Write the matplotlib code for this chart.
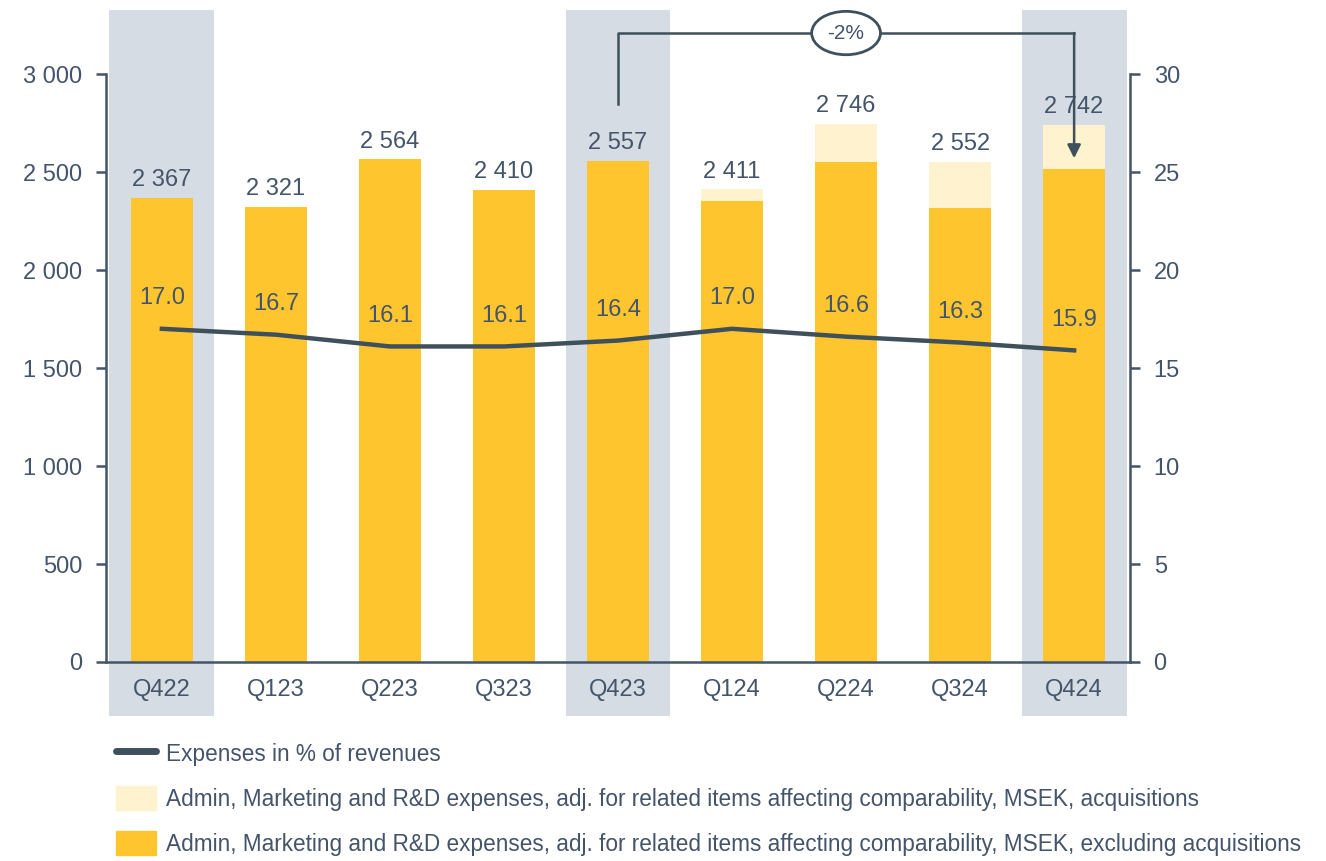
import matplotlib
matplotlib.use('Agg')
import matplotlib.pyplot as plt
from matplotlib.patches import Patch
from matplotlib.lines import Line2D

# --- Data ---
quarters = ['Q422', 'Q123', 'Q223', 'Q323', 'Q423', 'Q124', 'Q224', 'Q324', 'Q424']
total = [2367, 2321, 2564, 2410, 2557, 2411, 2746, 2552, 2742]
excl_acq = [2367, 2321, 2564, 2410, 2557, 2352, 2551, 2318, 2515]
pct_rev = [17.0, 16.7, 16.1, 16.1, 16.4, 17.0, 16.6, 16.3, 15.9]
highlight = ['Q422', 'Q423', 'Q424']
change_label = '-2%'

# --- Style ---
plt.rcParams['font.family'] = ['Liberation Sans', 'DejaVu Sans']
fs = 17
txt = '#44546a'
dark = '#3f505d'
yellow = '#fec52e'
light = '#fff2cf'
band = '#d5dce3'

fig = plt.figure(figsize=(13.26, 8.61), dpi=100)
ax = fig.add_axes([106 / 1326, 1 - 662 / 861, (1130 - 106) / 1326, (662 - 6) / 861])
ymax = 3347
ax.set_ylim(0, ymax)
ax.set_xlim(-0.49, len(quarters) - 0.51)

x = list(range(len(quarters)))

# highlight bands (extend below the axis, behind the tick labels)
for i, q in enumerate(quarters):
    if q in highlight:
        ax.axvspan(i - 0.46, i + 0.46, ymin=-0.082, ymax=0.994, color=band,
                   clip_on=False, zorder=0, lw=0)

acq = [t - e for t, e in zip(total, excl_acq)]
ax.bar(x, excl_acq, width=0.55, color=yellow, zorder=2)
ax.bar(x, acq, bottom=excl_acq, width=0.55, color=light, zorder=2)

for i, t in enumerate(total):
    ax.annotate(f'{t:,}'.replace(',', ' '), (i, t), xytext=(0, 5),
                textcoords='offset points', ha='center', va='bottom',
                fontsize=fs, color=txt)

# axes styling
for s in ['top', 'right']:
    ax.spines[s].set_visible(False)
for s in ['left', 'bottom']:
    ax.spines[s].set_color(txt)
    ax.spines[s].set_linewidth(1.8)
ax.spines['left'].set_bounds(0, 3000)
ax.set_yticks(range(0, 3001, 500))
ax.set_yticklabels([f'{v:,}'.replace(',', ' ') for v in range(0, 3001, 500)])
ax.tick_params(axis='y', colors=txt, labelsize=fs, length=7, width=1.8, pad=10)
ax.set_xticks(x)
ax.set_xticklabels(quarters)
ax.tick_params(axis='x', colors=txt, labelsize=fs, length=0, pad=12)

# percentage line on right axis
ax2 = ax.twinx()
ax2.set_ylim(0, ymax / 100)
ax2.plot(x, pct_rev, color=dark, lw=3.2, zorder=3)
for i, p in enumerate(pct_rev):
    ax2.annotate(f'{p:.1f}', (i, p), xytext=(0, 22), textcoords='offset points',
                 ha='center', va='center', fontsize=fs, color=txt)
for s in ['top', 'left', 'bottom']:
    ax2.spines[s].set_visible(False)
ax2.spines['right'].set_color(txt)
ax2.spines['right'].set_linewidth(1.8)
ax2.spines['right'].set_bounds(0, 30)
ax2.set_yticks(range(0, 31, 5))
ax2.tick_params(axis='y', colors=txt, labelsize=fs, length=7, width=1.8, pad=10)

# change bracket Q423 -> Q424
i0, i1 = quarters.index('Q423'), quarters.index('Q424')
y_top = 3209
ax.plot([i0, i0, i1], [total[i0] + 290, y_top, y_top], color=dark, lw=1.8,
        zorder=4, clip_on=False)
ax.annotate('', xy=(i1, excl_acq[i1] + 55), xytext=(i1, y_top),
            arrowprops=dict(arrowstyle='-|>,head_length=0.8,head_width=0.4',
                            color=dark, lw=1.8, shrinkA=0, shrinkB=0),
            zorder=4)
ax.text((i0 + i1) / 2, y_top, change_label, ha='center', va='center',
        fontsize=15, color=txt, zorder=5,
        bbox=dict(boxstyle='ellipse,pad=0.28', fc='white', ec=dark, lw=2))

# legend
handles = [
    Line2D([], [], color=dark, lw=5, solid_capstyle='round'),
    Patch(color=light),
    Patch(color=yellow),
]
labels = [
    'Expenses in % of revenues',
    'Admin, Marketing and R&D expenses, adj. for related items affecting comparability, MSEK, acquisitions',
    'Admin, Marketing and R&D expenses, adj. for related items affecting comparability, MSEK, excluding acquisitions',
]
lfs = 16.3
leg = fig.legend(handles, labels, loc='upper left', bbox_to_anchor=(116 / 1326, 1 - 741 / 861),
                 frameon=False, fontsize=lfs, handlelength=1.75, handleheight=1.27,
                 handletextpad=0.45, labelspacing=0.9, borderpad=0, borderaxespad=0)
for t in leg.get_texts():
    t.set_color(txt)

fig.savefig('out.png', dpi=100)
